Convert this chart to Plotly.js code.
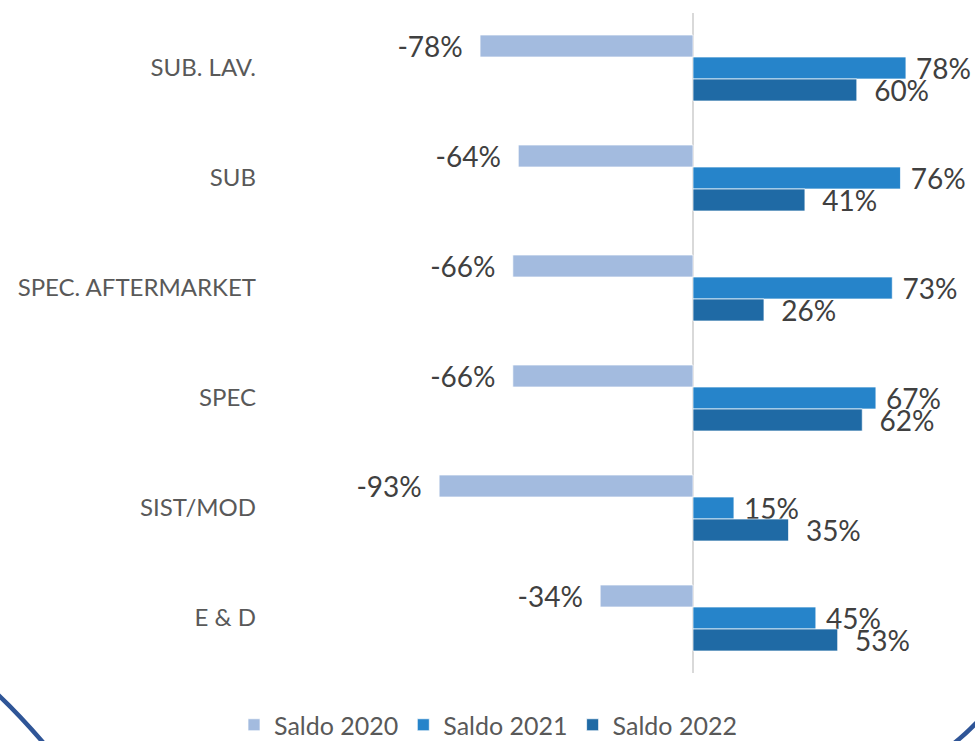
<!DOCTYPE html>
<html>
<head>
<meta charset="utf-8">
<script src="https://cdn.plot.ly/plotly-3.0.1.min.js"></script>
<style>
  html, body { margin: 0; padding: 0; background: #ffffff; }
  #chart { width: 975px; height: 741px; }
</style>
</head>
<body>
<div id="chart"></div>
<script>
// ---- data ----
const categories = ["SUB. LAV.", "SUB", "SPEC. AFTERMARKET", "SPEC", "SIST/MOD", "E & D"];
const saldo2020 = [-78, -64, -66, -66, -93, -34];
const saldo2021 = [78, 76, 73, 67, 15, 45];
const saldo2022 = [60, 41, 26, 62, 35, 53];
const seriesNames = ["Saldo 2020", "Saldo 2021", "Saldo 2022"];

// ---- layout constants ----
const W = 975, H = 741;
const M = { l: 262, r: 5, t: 13, b: 68, autoexpand: false };
const plotW = W - M.l - M.r, plotH = H - M.t - M.b;
const zeroPx = 693, pxPerUnit = 2.73;
const xRange = [-(zeroPx - M.l) / pxPerUnit, (W - M.r - zeroPx) / pxPerUnit];

const px2x = p => (p - M.l) / plotW;
const px2y = p => (H - M.b - p) / plotH;

const NB = "\u00a0";
const labelFont = { family: "Lato, 'Open Sans', sans-serif", size: 28, color: "#404040" };

function mkTrace(name, vals, color, pre, post) {
  return {
    type: "bar", orientation: "h", name: name,
    y: categories, x: vals,
    text: vals.map(v => pre + String(v) + "%" + post),
    textposition: "outside",
    marker: { color: color, line: { color: "rgba(255,255,255,0.7)", width: 1 } },
    textfont: labelFont, cliponaxis: false, constraintext: "none",
    hoverinfo: "skip"
  };
}

const traces = [
  mkTrace(seriesNames[0], saldo2020, "#A3BBDF", "", NB + NB),
  mkTrace(seriesNames[1], saldo2021, "#2684CA", NB, ""),
  mkTrace(seriesNames[2], saldo2022, "#1F6AA5", NB + NB, "")
];

function arcPath(pts) {
  const p = pts.map(([a, b]) => [px2x(a), px2y(b)]);
  return `M${p[0][0]},${p[0][1]} Q${p[1][0]},${p[1][1]} ${p[2][0]},${p[2][1]}`;
}

const layout = {
  width: W, height: H,
  margin: M,
  paper_bgcolor: "#ffffff", plot_bgcolor: "#ffffff",
  font: { family: "Lato, 'Open Sans', sans-serif", color: "#595959" },
  barmode: "group", bargap: 0.4, bargroupgap: 0,
  showlegend: true,
  legend: {
    orientation: "h", x: px2x(488), xanchor: "center",
    y: px2y(725), yanchor: "middle",
    font: { size: 25, color: "#595959" },
    bgcolor: "rgba(0,0,0,0)"
  },
  xaxis: {
    range: xRange, showgrid: false, showticklabels: false, ticks: "",
    zeroline: true, zerolinecolor: "#D9D9D9", zerolinewidth: 1.5,
    showline: false, fixedrange: true
  },
  yaxis: {
    type: "category", autorange: "reversed",
    showgrid: false, zeroline: false, showline: false, ticks: "",
    tickfont: { size: 24, color: "#595959" },
    ticklabelstandoff: 5,
    fixedrange: true
  },
  shapes: [
    { type: "path", xref: "paper", yref: "paper", layer: "above",
      path: arcPath([[-6, 691], [18, 713], [47, 747]]),
      line: { color: "#2F5597", width: 4.5 } },
    { type: "path", xref: "paper", yref: "paper", layer: "above",
      path: arcPath([[949, 747], [963, 737], [981, 718]]),
      line: { color: "#2F5597", width: 4.5 } }
  ]
};

Plotly.newPlot("chart", traces, layout, { displayModeBar: false, staticPlot: true });
</script>
</body>
</html>
